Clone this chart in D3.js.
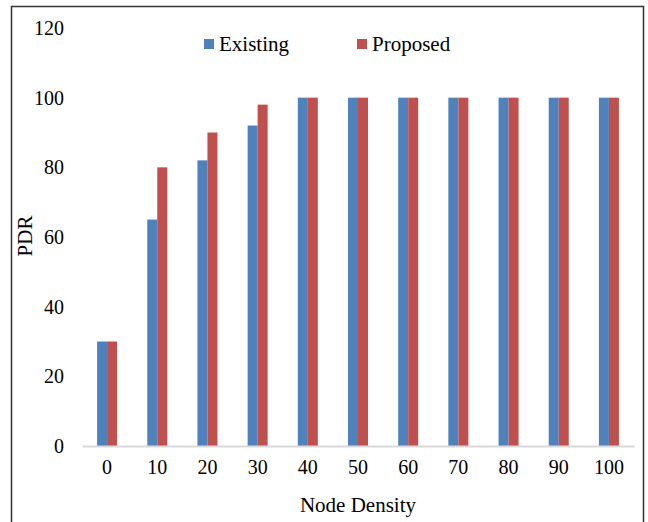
<!DOCTYPE html>
<html>
<head>
<meta charset="utf-8">
<script src="https://cdn.jsdelivr.net/npm/d3@7"></script>
<style>
  html, body { margin: 0; padding: 0; background: #fff; }
  svg { display: block; }
  text { font-family: "Liberation Serif", "Times New Roman", serif; fill: #000; }
</style>
</head>
<body>
<svg id="chart" width="648" height="522"></svg>
<script>
// PDR vs node density for the two schemes
const categories = ["0", "10", "20", "30", "40", "50", "60", "70", "80", "90", "100"];
const existing = [30, 65, 82, 92, 100, 100, 100, 100, 100, 100, 100];
const proposed = [30, 80, 90, 98, 100, 100, 100, 100, 100, 100, 100];
const seriesNames = ["Existing", "Proposed"];
const seriesColors = ["#4F81BD", "#C0504D"];
const yTicks = [0, 20, 40, 60, 80, 100, 120];

const svg = d3.select("#chart");
const W = 648, H = 522;

// outer frame
svg.append("rect")
  .attr("x", 11.5).attr("y", 6.5)
  .attr("width", 632).attr("height", 530)
  .attr("fill", "none").attr("stroke", "#333").attr("stroke-width", 1.5);

const plot = { left: 82, right: 634, top: 28, bottom: 446 };

const x = d3.scaleBand()
  .domain(categories)
  .range([plot.left, plot.right])
  .paddingInner(0).paddingOuter(0);

const inner = d3.scaleBand()
  .domain(seriesNames)
  .range([0, 20]);

const y = d3.scaleLinear().domain([0, 120]).range([plot.bottom, plot.top]);

const data = categories.map((c, i) => ({ cat: c, values: [existing[i], proposed[i]] }));

const groups = svg.append("g").selectAll("g")
  .data(data).join("g")
  .attr("transform", d => `translate(${x(d.cat) + (x.bandwidth() - 20) / 2},0)`);

groups.selectAll("rect")
  .data(d => d.values.map((v, k) => ({ name: seriesNames[k], v, k })))
  .join("rect")
  .attr("x", d => inner(d.name))
  .attr("width", inner.bandwidth())
  .attr("y", d => y(d.v))
  .attr("height", d => y(0) - y(d.v))
  .attr("fill", d => seriesColors[d.k]);

// y axis (labels only)
const yAxis = d3.axisLeft(y).tickValues(yTicks).tickSize(0).tickPadding(0);
const yg = svg.append("g").attr("transform", "translate(64,0)").call(yAxis);
yg.select(".domain").remove();
yg.selectAll("text")
  .style("font-family", "'Liberation Serif', serif")
  .style("font-size", "20px").attr("fill", "#000");

// x axis
const xAxis = d3.axisBottom(x).tickSize(0).tickPadding(14);
const xg = svg.append("g").attr("transform", `translate(0,${plot.bottom})`).call(xAxis);
xg.select(".domain").attr("stroke", "#d9d9d9").attr("stroke-width", 2);
xg.selectAll("text")
  .style("font-family", "'Liberation Serif', serif")
  .style("font-size", "20px").attr("fill", "#000");

// axis titles
svg.append("text")
  .attr("x", 358).attr("y", 512)
  .attr("text-anchor", "middle")
  .style("font-size", "21px")
  .text("Node Density");

svg.append("text")
  .attr("transform", "translate(32,236) rotate(-90)")
  .attr("text-anchor", "middle")
  .style("font-size", "21px")
  .text("PDR");

// legend
const legendX = [204, 357];
const legend = svg.append("g").selectAll("g")
  .data(seriesNames).join("g")
  .attr("transform", (d, i) => `translate(${legendX[i]},39)`);
legend.append("rect")
  .attr("width", 10).attr("height", 10)
  .attr("fill", (d, i) => seriesColors[i]);
legend.append("text")
  .attr("x", 15).attr("y", 12)
  .style("font-size", "21px")
  .text(d => d);
</script>
</body>
</html>
